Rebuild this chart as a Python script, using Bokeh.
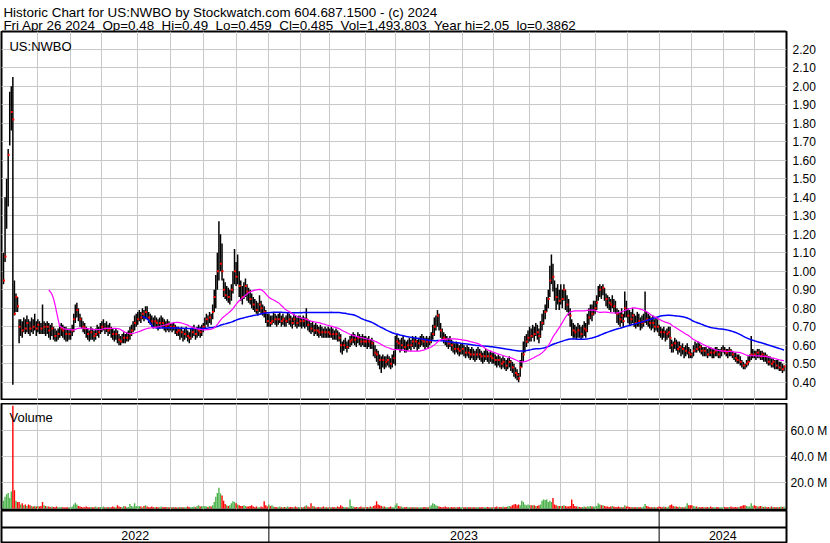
import numpy as np
from bokeh.plotting import figure
from bokeh.layouts import column
from bokeh.models import Range1d, LinearAxis, FixedTicker, Grid, PrintfTickFormatter
from bokeh.core.properties import value
from bokeh.embed import file_html
from bokeh.resources import INLINE

# ---------------- data (prices in US cents, volume in millions) ----------------
close_c = [
    95, 108, 136, 163, 185, 186, 182, 77, 86, 81, 70, 70, 68, 71, 69, 72, 70, 69, 71, 70, 72, 69,
    71, 70, 69, 68, 70, 69, 70, 68, 67, 69, 66, 65, 64, 66, 67, 69, 68, 67, 66, 65, 66,
    66, 68, 74, 78, 79, 76, 74, 72, 70, 69, 67, 66, 65, 67, 66, 65, 66, 68, 67, 69,
    70, 71, 69, 70, 68, 69, 67, 66, 65, 66, 64, 63, 62, 63, 64, 63, 64, 65, 66, 68, 70, 72, 73,
    74, 76, 75, 77, 76, 78, 77, 75, 74, 73, 72, 73, 72, 71, 72, 73, 72, 71, 70, 71, 70,
    70, 69, 70, 68, 67, 68, 66, 67, 65, 66, 67, 65, 64, 66, 67, 68, 66, 67, 68, 67, 68,
    70, 72, 74, 73, 75, 74, 78, 86, 95, 100, 104, 104, 100, 90, 87, 88, 86, 87, 90, 95, 100,
    97, 100, 92, 90, 86, 90, 92, 89, 86, 85, 84, 82, 80, 79, 80, 82, 80, 79, 78, 76, 73,
    74, 72, 73, 75, 74, 73, 74, 75, 73, 74, 72, 73, 75, 74, 73, 72, 74, 73, 72, 73,
    73, 72, 73, 72, 74, 71, 70, 69, 70, 68, 69, 68, 67, 68, 67, 66, 67, 66, 67,
    66, 67, 66, 65, 66, 65, 64, 60, 58, 60, 61, 59, 60, 62, 63, 64, 63, 62, 64, 63, 62, 63, 62,
    62, 61, 62, 60, 61, 58, 56, 55, 53, 52, 51, 52, 50, 51, 52, 51, 50, 52, 53,
    60, 62, 61, 59, 60, 61, 59, 58, 60, 61, 60, 62, 61, 62, 60, 61, 62, 63, 62, 61, 62, 61,
    62, 63, 66, 70, 72, 76, 72, 68, 66, 64, 63, 62, 61, 62, 60, 59, 58, 59, 58, 57, 58,
    58, 57, 56, 57, 56, 55, 56, 55, 54, 55, 56, 55, 54, 53, 54, 55, 54, 53, 54, 53,
    53, 52, 51, 52, 51, 50, 51, 50, 49, 50, 51, 49, 48, 46, 45, 44, 42, 48, 52, 55, 60, 62, 64,
    66, 65, 68, 66, 69, 67, 65, 68, 72, 75, 78, 82, 85, 95, 100, 97, 90, 86, 88, 84,
    88, 85, 90, 84, 82, 80, 76, 70, 68, 67, 66, 68, 67, 66, 67, 69, 68, 72, 75, 78, 77, 80,
    80, 83, 88, 90, 89, 91, 88, 85, 84, 83, 82, 84, 81, 80, 77, 75, 74, 76, 73, 80, 78,
    76, 75, 74, 76, 73, 72, 74, 73, 71, 72, 73, 78, 74, 73, 72, 71, 72, 70, 71, 70,
    68, 67, 66, 67, 65, 66, 67, 64, 60, 59, 61, 60, 58, 59, 57, 58, 56, 57, 58, 56, 55,
    54, 57, 59, 58, 60, 59, 57, 56, 57, 56, 55, 57, 56, 55, 56, 57, 56, 55, 56, 57,
    58, 57, 56, 55, 57, 56, 55, 54, 53, 52, 53, 51, 50, 49, 48, 50, 51, 53, 55, 56,
    55, 54, 56, 55, 54, 55, 53, 54, 52, 51, 52, 50, 51, 50, 49, 50, 48, 49, 47, 48.5,
]
high_c = [
    110, 140, 150, 166, 197, 200, 205, 95, 88, 86, 74, 74, 73, 75, 74, 76, 74, 73, 75, 74, 77, 73,
    74, 73, 72, 82, 73, 72, 73, 72, 71, 72, 70, 69, 68, 69, 71, 72, 71, 70, 70, 69, 69,
    69, 71, 77, 82, 83, 80, 77, 75, 73, 72, 70, 69, 68, 70, 69, 68, 69, 71, 70, 72,
    73, 74, 72, 73, 71, 72, 70, 69, 68, 69, 68, 66, 65, 66, 67, 66, 67, 68, 70, 71, 73, 76, 77,
    78, 79, 78, 80, 79, 81, 81, 78, 77, 76, 75, 76, 75, 74, 75, 76, 75, 74, 73, 74, 73,
    72, 72, 72, 71, 70, 70, 69, 70, 68, 69, 70, 68, 67, 69, 70, 71, 69, 70, 71, 70, 71,
    72, 75, 77, 76, 78, 77, 82, 90, 98, 110, 127, 120, 115, 96, 94, 92, 91, 90, 93, 100, 112,
    105, 109, 100, 95, 92, 94, 96, 93, 91, 90, 88, 86, 85, 84, 83, 87, 84, 82, 81, 79, 77,
    77, 76, 76, 78, 77, 76, 77, 78, 76, 77, 75, 76, 78, 77, 76, 75, 77, 76, 75, 76,
    76, 75, 76, 75, 80, 74, 73, 72, 73, 71, 72, 71, 70, 71, 70, 69, 70, 69, 70,
    69, 70, 69, 68, 69, 68, 67, 66, 62, 63, 64, 62, 63, 65, 66, 67, 66, 65, 67, 66, 65, 66, 65,
    65, 64, 65, 63, 64, 62, 60, 58, 57, 55, 54, 55, 54, 54, 55, 54, 53, 55, 57,
    65, 66, 64, 63, 64, 65, 63, 62, 63, 64, 63, 65, 64, 65, 63, 64, 65, 66, 65, 64, 65, 64,
    65, 67, 71, 75, 76, 79, 77, 72, 69, 67, 66, 65, 64, 65, 63, 62, 61, 62, 61, 60, 61,
    61, 60, 59, 60, 59, 58, 59, 58, 57, 58, 59, 58, 57, 56, 57, 58, 57, 56, 57, 56,
    56, 55, 54, 55, 54, 53, 54, 53, 52, 53, 54, 52, 51, 50, 48, 47, 45, 52, 56, 62, 65, 66, 68,
    70, 69, 71, 70, 72, 71, 69, 73, 77, 79, 82, 86, 90, 103, 109, 104, 95, 91, 93, 90,
    93, 90, 93, 90, 87, 85, 80, 74, 72, 71, 70, 72, 71, 70, 71, 73, 72, 77, 80, 82, 82, 84,
    84, 87, 92, 93, 92, 93, 91, 88, 87, 86, 85, 87, 85, 84, 80, 79, 78, 80, 77, 89, 84,
    80, 79, 78, 80, 77, 76, 78, 77, 75, 76, 77, 89, 78, 77, 76, 75, 76, 74, 75, 74,
    71, 70, 69, 70, 68, 69, 70, 70, 63, 62, 64, 63, 62, 62, 60, 61, 59, 60, 61, 59, 58,
    56, 60, 62, 61, 62, 61, 60, 59, 59, 59, 58, 59, 59, 58, 58, 59, 59, 58, 58, 59,
    60, 59, 58, 58, 59, 58, 57, 56, 56, 55, 55, 54, 52, 51, 50, 52, 54, 55, 65, 58,
    57, 57, 58, 58, 57, 57, 56, 56, 55, 54, 54, 53, 53, 52, 52, 52, 51, 51, 50, 49,
]
low_c = [
    93, 105, 123, 135, 168, 176, 38.62, 76, 78, 78, 61, 65, 64, 67, 66, 67, 66, 65, 67, 66, 68, 65,
    67, 66, 66, 66, 66, 65, 66, 64, 63, 65, 63, 62, 62, 63, 64, 65, 64, 63, 62, 62, 63,
    63, 65, 67, 72, 75, 73, 70, 69, 67, 66, 64, 63, 62, 63, 63, 62, 63, 65, 64, 66,
    67, 68, 66, 67, 65, 66, 64, 63, 62, 63, 61, 60, 60, 61, 61, 61, 62, 62, 63, 65, 67, 68, 70,
    71, 73, 72, 74, 73, 74, 74, 72, 71, 70, 69, 70, 69, 68, 69, 70, 69, 68, 67, 68, 67,
    68, 67, 68, 66, 65, 65, 63, 64, 62, 63, 64, 62, 61, 63, 64, 65, 63, 64, 65, 64, 65,
    67, 69, 71, 70, 72, 71, 74, 78, 80, 90, 95, 100, 95, 86, 85, 84, 83, 82, 84, 88, 93,
    92, 93, 86, 84, 82, 85, 86, 84, 83, 82, 80, 79, 78, 77, 76, 78, 77, 76, 75, 72, 70,
    70, 70, 71, 72, 71, 70, 71, 72, 70, 71, 70, 70, 72, 71, 70, 69, 71, 70, 69, 70,
    70, 69, 70, 69, 70, 68, 67, 66, 67, 65, 66, 65, 64, 65, 64, 64, 64, 64, 64,
    64, 64, 63, 63, 63, 62, 62, 56, 55, 57, 58, 56, 58, 59, 60, 61, 60, 59, 61, 60, 59, 60, 59,
    59, 58, 59, 58, 58, 54, 53, 51, 49, 47, 45, 48, 47, 48, 49, 48, 47, 48, 50,
    49, 58, 58, 56, 57, 58, 56, 56, 57, 58, 57, 59, 58, 59, 57, 58, 59, 60, 59, 58, 59, 58,
    60, 61, 63, 65, 68, 70, 68, 64, 63, 61, 60, 59, 58, 59, 57, 56, 55, 56, 55, 54, 55,
    55, 54, 53, 54, 53, 52, 53, 52, 51, 52, 53, 52, 51, 50, 51, 52, 51, 50, 51, 50,
    50, 49, 48, 49, 48, 47, 48, 47, 46, 47, 48, 46, 45, 43, 42, 41, 40, 43, 48, 51, 56, 59, 61,
    62, 62, 64, 62, 65, 63, 61, 64, 68, 71, 74, 78, 80, 86, 93, 89, 84, 79, 82, 79,
    82, 80, 84, 79, 78, 76, 70, 65, 64, 64, 63, 64, 64, 63, 64, 65, 64, 67, 71, 74, 73, 76,
    77, 79, 84, 86, 85, 87, 84, 81, 80, 79, 78, 80, 78, 77, 72, 71, 70, 72, 70, 75, 75,
    72, 71, 71, 72, 70, 69, 70, 70, 68, 69, 70, 72, 71, 70, 69, 68, 69, 67, 68, 67,
    65, 64, 63, 64, 62, 63, 64, 58, 56, 56, 58, 57, 55, 56, 54, 55, 53, 54, 55, 53, 53,
    53, 54, 56, 56, 57, 56, 55, 54, 54, 54, 53, 54, 54, 53, 53, 54, 54, 53, 53, 54,
    56, 55, 54, 53, 54, 54, 53, 52, 51, 50, 50, 49, 48, 47, 47, 48, 49, 51, 52, 53,
    53, 52, 53, 53, 52, 52, 51, 51, 50, 49, 49, 48, 48, 47, 47, 47, 46, 46, 45, 45.9,
]
volume_m = [
    6, 9, 11, 12, 8, 13, 79, 14, 6, 5, 5, 3, 4, 2.5, 3, 2, 3, 2.5, 2, 1.5, 2, 1.5,
    2, 1.5, 2, 5, 2.5, 2, 1.5, 1.5, 1, 1.5, 1.2, 1, 1.5, 1, 1, 1.2, 1, 0.8, 1, 1, 1,
    1, 1.5, 3, 4.5, 3, 2, 1.5, 1.2, 1, 1, 1.5, 1, 1, 1.2, 1, 1, 1.5, 1, 1, 1.2,
    1, 1.5, 1, 1, 1.2, 1, 1, 1.5, 1, 1, 2.5, 1.5, 1.2, 1, 2, 1.5, 1, 1.2, 3.5, 2, 1.5, 4, 2,
    1.5, 2, 1.5, 1, 2, 2.5, 1.5, 1, 1, 1.5, 1, 1, 1.2, 1, 1, 1.5, 1, 1, 1.2, 1, 1,
    1, 1, 1.2, 1, 0.8, 1, 1, 1.2, 1, 1, 1, 1.5, 1, 1, 1.2, 1.5, 1, 2, 2.5, 1.5, 2,
    1.5, 2, 1.5, 1.2, 2, 1.5, 2.5, 5, 9, 12, 16, 11.5, 10, 6, 3.5, 2.5, 2, 2.5, 4, 5.5, 5,
    4, 3, 2.5, 2, 2, 2.5, 2, 1.5, 1.5, 2, 2.5, 1.5, 1, 1.5, 1, 1, 1.5, 1, 5.5, 2.5, 1.5,
    3, 2, 2.5, 1.5, 1.2, 1, 1, 1.5, 1, 1, 1.2, 1, 1.5, 1, 1.2, 1, 1, 1.5, 1, 1.2,
    1, 1, 1.2, 1.5, 2.5, 1.5, 1, 4, 2, 1.5, 1, 1, 1.2, 1, 1, 1.5, 1, 1, 1,
    1, 1, 1.2, 1, 1, 1.5, 1.2, 2.5, 1.5, 1.2, 1, 1, 1, 7, 2, 1.5, 1, 1.2, 1, 1, 1.5, 1, 1,
    1, 1.2, 1, 1.5, 1.2, 2, 2.5, 5.5, 3, 2.5, 2, 1.5, 1.5, 1.2, 1, 1, 1.5, 1, 1,
    2.5, 4, 2, 1.5, 1.5, 1, 1, 1.2, 1, 1, 1, 1.2, 1, 1, 1, 0.8, 1, 1, 1, 1.2, 1, 1,
    1.5, 2.5, 4, 3.5, 2.5, 2, 1.5, 1.2, 1, 1, 1.5, 1, 1, 1, 1.2, 1, 1, 1, 1, 1.2, 1,
    1, 1, 1, 1.2, 1, 1, 1, 1, 1, 1, 1.2, 1, 1, 1, 1, 1, 1.2, 1, 1, 1,
    1, 1.2, 1.5, 1, 1.2, 1, 1.5, 1, 1.2, 1.5, 2, 1.5, 2.5, 3, 3.5, 2.5, 3, 2.5, 6, 5, 3, 2.5, 3,
    2.5, 2.5, 2.5, 2.5, 2, 2, 2.5, 3, 6, 7, 6.5, 7, 5, 6, 5, 8, 3, 2.5, 2, 2,
    2, 2, 2.5, 2, 1.5, 1.5, 2, 7, 3.5, 2, 1.5, 1.5, 1.2, 1, 1.2, 1.5, 1, 1.5, 1.5, 2, 1.5, 1.5,
    1.5, 2, 4, 3, 2.5, 2.5, 2, 1.5, 1.5, 1.2, 1.5, 2, 1.5, 1, 1.2, 1.5, 1, 1.2, 1, 2.5, 1.5,
    1.5, 1.2, 1, 1.2, 1, 1, 1.2, 1, 1, 1, 1.5, 3.5, 2, 1.5, 1, 1, 1.2, 1, 1, 1,
    1.5, 1.2, 1, 1.5, 1.2, 1, 1.5, 2.5, 3, 2, 1.5, 1.5, 1.2, 1.5, 1, 1.2, 1, 1.5, 4, 2.5, 2.5,
    2.5, 2, 1.5, 1.5, 1.2, 1, 1, 1.2, 1, 1, 1.2, 1, 1.5, 1, 1, 1, 1.2, 1, 1, 1,
    1, 1.2, 1, 1, 1.2, 1.5, 1, 1, 1.2, 1, 1, 1.5, 2, 2.5, 2.5, 2, 1.5, 1.5, 4, 2,
    2.5, 2, 1.5, 1.5, 2, 1.5, 1.2, 1.5, 1, 1.2, 1, 1.5, 1.2, 1, 1, 1.2, 1, 1.5, 1.2, 1.5,
]
# trading days per month: (Apr 29 + May 2022), Jun 2022 ... Apr 2024
month_days = [22, 21, 20, 23, 21, 21, 21, 21,
              20, 19, 23, 19, 22, 21, 20, 23, 20, 22, 21, 20,
              21, 20, 20, 20]
years = ["2022", "2023", "2024"]
year_first_month = [0, 8, 20]
price_ticks = [0.40, 0.50, 0.60, 0.70, 0.80, 0.90, 1.00, 1.10, 1.20, 1.30,
               1.40, 1.50, 1.60, 1.70, 1.80, 1.90, 2.00, 2.10, 2.20]
volume_ticks = [20, 40, 60]
ma_fast, ma_slow = 30, 90
symbol = "US:NWBO"
header_1 = "Historic Chart for US:NWBO by Stockwatch.com 604.687.1500 - (c) 2024"
header_2 = ("Fri Apr 26 2024 \u00a0Op=0.48 \u00a0Hi=0.49 \u00a0Lo=0.459 \u00a0Cl=0.485 "
            "\u00a0Vol=1,493,803 \u00a0Year hi=2.05 \u00a0lo=0.3862")

# ---------------- derived ----------------
n = min(len(close_c), len(high_c), len(low_c), len(volume_m))
close = np.array(close_c[:n], dtype=float) / 100
high = np.array(high_c[:n], dtype=float) / 100
low = np.array(low_c[:n], dtype=float) / 100
vol = np.array(volume_m[:n], dtype=float)
idx = np.arange(n)


def sma(a, w):
    out = np.full(len(a), np.nan)
    cs = np.concatenate([[0.0], np.cumsum(a)])
    out[w - 1:] = (cs[w:] - cs[:-w]) / w
    return out


ma1 = sma(close, ma_fast)
ma2 = sma(close, ma_slow)
up = np.concatenate([[True], close[1:] >= close[:-1]])
vcolors = ["#4db34d" if u else "#ff0000" for u in up]
month_start = list(np.cumsum([0] + month_days[:-1]))
grid_x = [float(m) for m in month_start[1:]]
year_start = [float(month_start[m]) for m in year_first_month]

# ---------------- layout constants (screen px) ----------------
W = 830
FL, FR = 1, 789          # frame left / right edges
X0 = 3.0                 # screen x of first bar
PXD = 1.567              # px per trading day
xs = -(X0 - FL) / PXD
xe = xs + (FR - FL) / PXD
FONT = "Liberation Sans"
GRID = "#c8c8c8"

# close tick stays visible where the next bar does not paint over it
sx = np.floor(X0 + idx * PXD)
gap2 = np.concatenate([sx[1:] - sx[:-1] >= 2, [True]])
outside = np.concatenate([(close[:-1] > high[1:]) | (close[:-1] < low[1:]), [True]])
show = gap2 | outside


def base_fig(height, yr, top, bottom, right=W - FR):
    p = figure(width=W, height=height, x_range=Range1d(xs, xe), y_range=yr,
               output_backend="svg", toolbar_location=None,
               x_axis_location=None, y_axis_location=None,
               min_border_left=FL, min_border_right=right,
               min_border_top=top, min_border_bottom=bottom)
    p.xgrid.grid_line_color = None
    p.ygrid.grid_line_color = None
    p.outline_line_color = "black"
    p.outline_line_width = 2
    p.background_fill_color = "white"
    p.border_fill_color = "white"
    return p


def strip_fig(height):
    s = figure(width=W, height=height, x_range=Range1d(0, W), y_range=Range1d(height, 0),
               output_backend="svg", toolbar_location=None,
               x_axis_location=None, y_axis_location=None, min_border=0)
    s.xgrid.grid_line_color = None
    s.ygrid.grid_line_color = None
    s.outline_line_color = None
    s.background_fill_color = "white"
    s.border_fill_color = "white"
    return s


# header (screen y 0..31)
h = strip_fig(31)
h.text(x=[2, 2], y=[11.5, 24.5], text=[header_1, header_2], text_font=value(FONT),
       text_font_size="13.4px", text_baseline="alphabetic", text_color="black")
h.segment(x0=[0], y0=[30.5], x1=[W], y1=[30.5], line_color="black", line_width=1)

# price panel: frame screen y 31..400, 185 px per 1.00, 0.40 at y 381.7
PPX = 185.0
PT = 31
ytop = 0.40 + (381.7 - PT) / PPX
ybot = 0.40 - (400 - 381.7) / PPX
p = base_fig(400 - PT, Range1d(ybot, ytop), 0, 0)
p.add_layout(Grid(dimension=0, ticker=FixedTicker(ticks=grid_x), grid_line_color=GRID))
p.add_layout(Grid(dimension=1, ticker=FixedTicker(ticks=price_ticks), grid_line_color=GRID))
pax = LinearAxis(ticker=FixedTicker(ticks=price_ticks), formatter=PrintfTickFormatter(format="%.2f"),
                 axis_line_color=None, major_tick_line_color=None, minor_tick_line_color=None,
                 major_tick_out=0, major_label_standoff=6,
                 major_label_text_font=FONT, major_label_text_font_size="12px",
                 major_label_text_color="black")
p.add_layout(pax, "right")
p.segment(x0=idx, y0=low, x1=idx, y1=high, line_color="black", line_width=1.5)
p.scatter(idx[show] + 0.3, close[show], marker="square", size=2, fill_color="#ff0000", line_color=None)
p.line(idx, ma2, line_color="#0000ff", line_width=1.5)
p.line(idx, ma1, line_color="#ff00ff", line_width=1.2)
p.text(x=[xs + (9 - FL) / PXD], y=[ytop - (46 - PT) / PPX], text=[symbol], text_font=value(FONT),
       text_font_size="13px", text_baseline="alphabetic", text_color="black")

# double separator line between panels (screen y 400..403)
sep = strip_fig(3)
sep.segment(x0=[0, 0], y0=[0.5, 2.5], x1=[W, W], y1=[0.5, 2.5], line_color="black", line_width=1)

# volume panel: frame screen y 403..509, 1.3 px per million, 0 at y 508
VPX = 1.3
vtop = (508 - 403) / VPX
vbot = -(509 - 508) / VPX
v = base_fig(107, Range1d(vbot, vtop), 0, 1)
v.add_layout(Grid(dimension=0, ticker=FixedTicker(ticks=grid_x), grid_line_color=GRID))
v.add_layout(Grid(dimension=1, ticker=FixedTicker(ticks=volume_ticks), grid_line_color=GRID))
vax = LinearAxis(ticker=FixedTicker(ticks=volume_ticks), formatter=PrintfTickFormatter(format="%.1f M"),
                 axis_line_color=None, major_tick_line_color=None, minor_tick_line_color=None,
                 major_tick_out=0, major_label_standoff=4,
                 major_label_text_font=FONT, major_label_text_font_size="12px",
                 major_label_text_color="black")
v.add_layout(vax, "right")
v.vbar(x=idx, top=vol, bottom=0, width=0.9, fill_color=vcolors, line_color=None)
v.text(x=[xs + (9 - FL) / PXD], y=[(508 - 417) / VPX], text=["Volume"], text_font=value(FONT),
       text_font_size="13px", text_baseline="alphabetic", text_color="black")

# bottom date rows: frame screen y 510..542
b = base_fig(33, Range1d(32, 0), 0, 1)
b.segment(x0=[xs], y0=[17], x1=[xe], y1=[17], line_color="black", line_width=2)
b.segment(x0=year_start[1:], y0=[0] * (len(year_start) - 1), x1=year_start[1:],
          y1=[32] * (len(year_start) - 1), line_color="black", line_width=1)
edges = [xs] + year_start[1:] + [xe]
centers = [(edges[i] + edges[i + 1]) / 2 for i in range(len(years))]
b.text(x=centers, y=[25] * len(years), text=years, text_font=value(FONT),
       text_font_size="12.5px", text_align="center", text_baseline="middle", text_color="black")

page = column(h, p, sep, v, b, spacing=0)
open("out.html", "w").write(file_html(page, INLINE))
